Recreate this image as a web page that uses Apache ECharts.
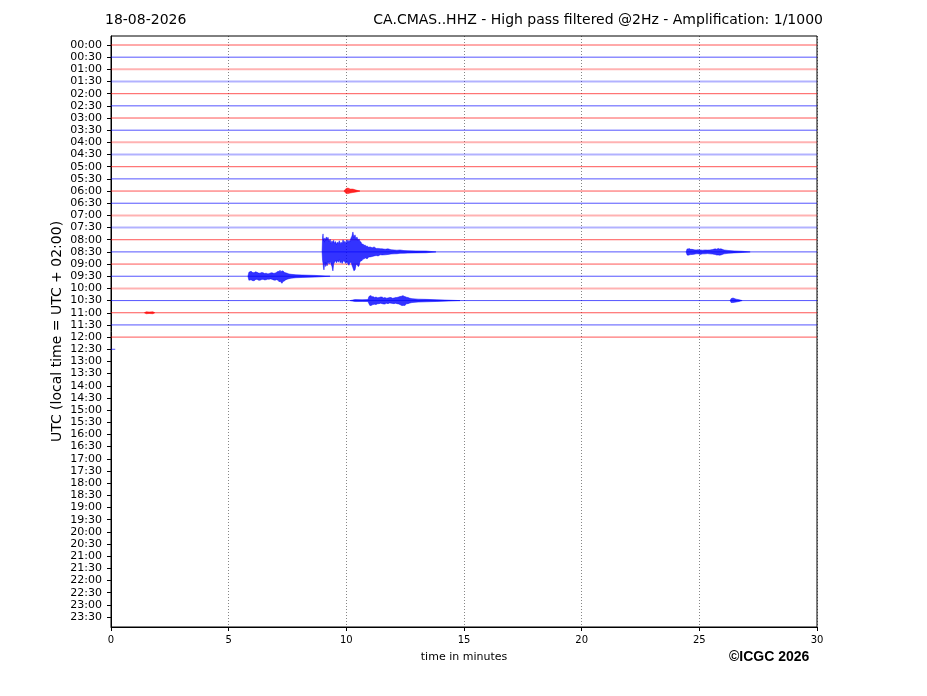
<!DOCTYPE html>
<html>
<head>
<meta charset="utf-8">
<script src="https://cdn.jsdelivr.net/npm/echarts@6/dist/echarts.min.js"></script>
<style>
html, body { margin: 0; background: #fff; }
#main { width: 927px; height: 696px; }
</style>
</head>
<body>
<div id="main"></div>
<script>
var tickLabels = ['00:00','00:30','01:00','01:30','02:00','02:30','03:00','03:30',
	'04:00','04:30','05:00','05:30','06:00','06:30','07:00','07:30',
	'08:00','08:30','09:00','09:30','10:00','10:30','11:00','11:30',
	'12:00','12:30','13:00','13:30','14:00','14:30','15:00','15:30',
	'16:00','16:30','17:00','17:30','18:00','18:30','19:00','19:30',
	'20:00','20:30','21:00','21:30','22:00','22:30','23:00','23:30'];

// minutes of signal recorded in each row (00:00 .. 12:30)
var traceEnd = [30,30,30,30,30,30,30,30,30,30,30,30,30,30,30,30,30,30,30,30,30,30,30,30,30,0.18];
// rows with a noisier (wider, paler) trace
var noisyRows = [2,3,8,9,14,15,20];

// events: [time in minutes, upper envelope, lower envelope] in row heights
var evA_row = 17; // 08:30 main quake
var evA = [[8.97,0,0],[8.99,1.20,0.70],[9.01,1.48,0.95],[9.03,0.90,1.30],[9.05,1.10,1.48],
	[9.07,0.80,1.10],[9.09,1.15,0.85],[9.12,0.95,1.20],[9.15,1.23,0.90],[9.18,1.05,1.15],
	[9.22,1.20,0.80],[9.27,0.85,1.00],[9.31,1.05,0.75],[9.35,0.70,0.99],[9.39,0.90,1.20],
	[9.43,0.75,1.56],[9.46,0.95,1.00],[9.50,0.70,0.85],[9.54,0.85,0.70],[9.58,0.62,0.90],
	[9.62,0.80,0.70],[9.66,0.70,0.85],[9.70,0.92,0.65],[9.74,0.68,0.90],[9.78,0.80,0.75],
	[9.82,0.65,0.95],[9.86,0.99,0.80],[9.90,0.75,0.70],[9.94,0.88,0.85],[9.98,0.70,0.95],
	[10.03,0.99,0.80],[10.07,0.80,1.00],[10.11,0.95,1.10],[10.15,0.85,0.90],[10.20,1.15,0.82],
	[10.24,1.30,1.10],[10.28,1.64,1.31],[10.32,1.20,1.55],[10.37,1.40,1.48],[10.41,1.05,1.10],
	[10.45,1.23,0.99],[10.50,0.95,1.20],[10.54,1.07,1.15],[10.58,0.85,0.80],[10.62,0.82,0.74],
	[10.67,0.60,0.70],[10.71,0.66,0.55],[10.75,0.50,0.60],[10.79,0.58,0.49],[10.84,0.45,0.52],
	[10.88,0.49,0.58],[10.95,0.38,0.42],[11.01,0.41,0.41],[11.10,0.34,0.38],[11.18,0.41,0.33],
	[11.27,0.28,0.30],[11.35,0.29,0.33],[11.44,0.26,0.24],[11.52,0.25,0.25],[11.65,0.22,0.24],
	[11.77,0.25,0.21],[11.90,0.18,0.17],[12.03,0.16,0.16],[12.15,0.14,0.15],[12.28,0.16,0.12],
	[12.45,0.11,0.11],[12.62,0.10,0.10],[12.96,0.08,0.08],[13.39,0.07,0.07],[13.81,0,0]];

var evB_row = 19; // 09:30
var evB = [[5.82,0,0],[5.86,0.33,0.33],[5.95,0.41,0.29],[6.02,0.30,0.36],[6.08,0.29,0.37],
	[6.14,0.36,0.28],[6.20,0.33,0.25],[6.27,0.26,0.32],[6.33,0.25,0.33],[6.40,0.31,0.27],
	[6.46,0.29,0.25],[6.53,0.22,0.30],[6.59,0.25,0.29],[6.65,0.20,0.24],[6.71,0.21,0.25],
	[6.78,0.27,0.22],[6.84,0.29,0.25],[6.90,0.24,0.30],[6.97,0.25,0.33],[7.04,0.33,0.28],
	[7.10,0.41,0.33],[7.14,0.36,0.45],[7.18,0.49,0.41],[7.22,0.40,0.50],[7.27,0.41,0.58],
	[7.31,0.45,0.42],[7.35,0.33,0.41],[7.42,0.28,0.30],[7.48,0.25,0.25],[7.56,0.19,0.20],
	[7.65,0.16,0.16],[7.86,0.12,0.12],[8.12,0.10,0.10],[8.67,0.07,0.07],[9.31,0,0]];

var evC_row = 21; // 10:30
var evC = [[10.16,0,0],[10.37,0.08,0.08],[10.67,0.07,0.07],[10.92,0.08,0.08],[10.96,0.33,0.25],
	[11.00,0.38,0.40],[11.05,0.41,0.41],[11.09,0.30,0.36],[11.13,0.33,0.33],[11.20,0.26,0.30],
	[11.26,0.29,0.33],[11.33,0.23,0.26],[11.39,0.25,0.25],[11.46,0.30,0.22],[11.52,0.29,0.25],
	[11.58,0.22,0.28],[11.64,0.25,0.29],[11.70,0.20,0.22],[11.77,0.21,0.25],[11.84,0.26,0.20],
	[11.90,0.25,0.21],[11.96,0.19,0.24],[12.03,0.21,0.25],[12.09,0.26,0.22],[12.15,0.25,0.25],
	[12.22,0.30,0.28],[12.28,0.33,0.33],[12.35,0.36,0.40],[12.41,0.41,0.41],[12.45,0.34,0.38],
	[12.49,0.33,0.41],[12.55,0.28,0.26],[12.62,0.25,0.25],[12.70,0.19,0.20],[12.79,0.16,0.16],
	[13.05,0.12,0.12],[13.39,0.10,0.10],[13.85,0.07,0.07],[14.83,0,0]];

var evD_row = 17; // 08:30, second event
var evD = [[24.44,0,0],[24.48,0.25,0.25],[24.52,0.22,0.28],[24.56,0.29,0.25],[24.63,0.21,0.22],
	[24.69,0.21,0.21],[24.78,0.17,0.19],[24.86,0.16,0.16],[24.95,0.18,0.15],[25.03,0.16,0.21],
	[25.14,0.14,0.16],[25.24,0.16,0.16],[25.35,0.15,0.14],[25.45,0.16,0.16],[25.56,0.19,0.18],
	[25.67,0.25,0.21],[25.74,0.22,0.26],[25.80,0.29,0.25],[25.86,0.24,0.27],[25.92,0.25,0.25],
	[26.05,0.16,0.16],[26.22,0.12,0.12],[26.48,0.08,0.08],[26.82,0.05,0.05],[27.16,0,0]];

var evE_row = 21; // 10:30, small
var evE = [[26.31,0,0],[26.35,0.16,0.16],[26.43,0.21,0.16],[26.56,0.12,0.12],[26.69,0.07,0.07],[26.82,0,0]];

var evF_row = 12; // 06:00, small
var evF = [[9.90,0,0],[9.99,0.21,0.21],[10.07,0.25,0.21],[10.16,0.16,0.16],[10.28,0.16,0.12],[10.41,0.08,0.08],[10.58,0,0]];

var evG_row = 22; // 11:00, tiny
var evG = [[1.42,0,0],[1.50,0.08,0.08],[1.62,0.06,0.06],[1.78,0.08,0.08],[1.86,0,0]];

var events = [
	{row: evA_row, pts: evA},
	{row: evB_row, pts: evB},
	{row: evC_row, pts: evC},
	{row: evD_row, pts: evD},
	{row: evE_row, pts: evE},
	{row: evF_row, pts: evF},
	{row: evG_row, pts: evG}
];

function rowColor(row) {
	return row % 2 ? '#0000ff' : '#ff0000';
}

var traceData = [];
for (var i = 0; i < traceEnd.length; i++) {
	traceData.push([0, i, traceEnd[i]]);
}
var eventData = [];
for (var k = 0; k < events.length; k++) {
	eventData.push([events[k].pts[0][0], events[k].row, k]);
}
var rowTicks = [];
for (var r = 0; r < tickLabels.length; r++) rowTicks.push(r);

var font = 'DejaVu Sans';

var option = {
	animation: false,
	backgroundColor: '#fff',
	title: [
		{text: '18-08-2026', left: 105, top: 13, padding: 0,
			textStyle: {fontFamily: font, fontSize: 14, fontWeight: 'normal', color: '#000'}},
		{text: 'CA.CMAS..HHZ - High pass filtered @2Hz - Amplification: 1/1000', right: 104, top: 13, padding: 0,
			textStyle: {fontFamily: font, fontSize: 14, fontWeight: 'normal', color: '#000'}}
	],
	graphic: [
		{type: 'text', left: 729, top: 650,
			style: {text: '\u00a9ICGC 2026', fontFamily: 'Liberation Sans', fontSize: 14, fontWeight: 'bold', fill: '#000'}}
	],
	grid: {left: 111, top: 36, width: 706, height: 591, show: true, borderColor: '#000', borderWidth: 1},
	xAxis: {
		type: 'value', min: 0, max: 30, interval: 5,
		name: 'time in minutes', nameLocation: 'middle', nameGap: 25,
		nameTextStyle: {fontFamily: font, fontSize: 11, color: '#000'},
		axisLine: {onZero: false, lineStyle: {color: '#000', width: 1}},
		axisTick: {length: 4, lineStyle: {color: '#000'}},
		axisLabel: {fontFamily: font, fontSize: 10, color: '#000', margin: 8},
		splitLine: {show: true, lineStyle: {color: '#000', width: 0.6, type: [1, 2], opacity: 0.8}}
	},
	yAxis: {
		type: 'value', min: -0.74, max: 47.82, inverse: true,
		name: 'UTC (local time = UTC + 02:00)', nameLocation: 'middle', nameGap: 47,
		nameMoveOverlap: false,
		nameTextStyle: {fontFamily: font, fontSize: 14, color: '#000'},
		axisLine: {show: true, onZero: false, lineStyle: {color: '#000', width: 1}},
		axisTick: {show: true, length: 4, customValues: rowTicks, lineStyle: {color: '#000'}},
		axisLabel: {fontFamily: font, fontSize: 11, color: '#000', margin: 9, customValues: rowTicks,
			formatter: function(v) { return tickLabels[v]; }},
		splitLine: {show: false}
	},
	series: [
		{
			type: 'custom', coordinateSystem: 'cartesian2d', clip: true, silent: true,
			data: traceData,
			renderItem: function(params, api) {
				var row = api.value(1);
				var p0 = api.coord([0, row]);
				var p1 = api.coord([api.value(2), row]);
				var noisy = noisyRows.indexOf(row) >= 0;
				return {
					type: 'line',
					shape: {x1: p0[0], y1: p0[1], x2: p1[0], y2: p1[1]},
					style: {stroke: rowColor(row), lineWidth: noisy ? 2 : 0.9, opacity: noisy ? 0.3 : 0.75}
				};
			}
		},
		{
			type: 'custom', coordinateSystem: 'cartesian2d', clip: true, silent: true,
			data: eventData,
			renderItem: function(params, api) {
				var ev = events[api.value(2)];
				var p = ev.pts;
				var pts = [];
				for (var i = 0; i < p.length; i++) pts.push(api.coord([p[i][0], ev.row - p[i][1]]));
				for (var j = p.length - 1; j >= 0; j--) pts.push(api.coord([p[j][0], ev.row + p[j][2]]));
				var c = rowColor(ev.row);
				return {
					type: 'polygon',
					shape: {points: pts},
					style: {fill: c, stroke: c, lineWidth: 0.6, opacity: 0.8}
				};
			}
		}
	]
};

echarts.init(document.getElementById('main')).setOption(option);
</script>
</body>
</html>
